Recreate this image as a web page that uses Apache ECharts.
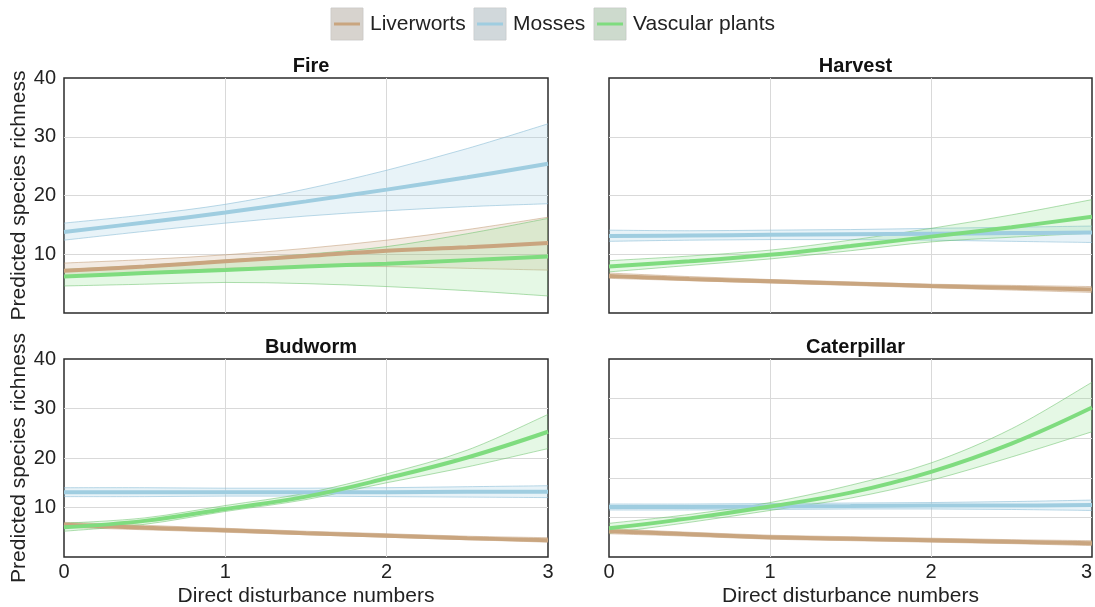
<!DOCTYPE html>
<html>
<head>
<meta charset="utf-8">
<script src="https://cdn.jsdelivr.net/npm/echarts@6/dist/echarts.min.js"></script>
<style>
  html, body { margin: 0; padding: 0; background: #fff; }
  #chart { width: 1095px; height: 607px; }
</style>
</head>
<body>
<div id="chart"></div>
<script>
// x positions where the fitted curves were read
const xs = [0, 0.5, 1, 1.5, 2, 2.5, 3];

const panels = ["Fire", "Harvest", "Budworm", "Caterpillar"];
const species = ["Liverworts", "Mosses", "Vascular plants"];

// Fire
const fireLiverMean = [7.2, 7.9, 8.8, 9.7, 10.6, 11.2, 11.9];
const fireLiverLo = [6.2, 6.9, 7.6, 7.9, 7.9, 7.6, 7.3];
const fireLiverHi = [8.5, 9.1, 9.9, 11.0, 12.4, 14.2, 16.3];
const fireMossMean = [13.8, 15.4, 17.1, 19.0, 21.0, 23.1, 25.4];
const fireMossLo = [12.4, 13.9, 15.3, 16.5, 17.4, 18.1, 18.6];
const fireMossHi = [15.3, 16.7, 18.5, 21.1, 24.3, 28.0, 32.2];
const fireVascMean = [6.2, 6.8, 7.3, 7.9, 8.4, 9.0, 9.6];
const fireVascLo = [4.6, 4.9, 5.2, 5.0, 4.5, 3.8, 2.9];
const fireVascHi = [7.4, 8.1, 9.0, 10.0, 11.3, 13.5, 16.1];

// Harvest
const harvLiverMean = [6.3, 5.8, 5.4, 5.0, 4.6, 4.3, 4.0];
const harvLiverLo = [5.9, 5.5, 5.1, 4.7, 4.3, 3.9, 3.5];
const harvLiverHi = [6.8, 6.2, 5.7, 5.3, 4.9, 4.7, 4.5];
const harvMossMean = [13.1, 13.2, 13.3, 13.4, 13.5, 13.6, 13.7];
const harvMossLo = [12.2, 12.4, 12.5, 12.5, 12.4, 12.2, 12.0];
const harvMossHi = [14.1, 14.0, 14.1, 14.2, 14.4, 14.6, 14.8];
const harvVascMean = [7.9, 8.8, 9.9, 11.4, 13.0, 14.6, 16.4];
const harvVascLo = [7.0, 8.1, 9.2, 10.6, 12.1, 12.9, 13.6];
const harvVascHi = [8.9, 9.7, 10.7, 12.4, 14.4, 16.7, 19.3];

// Budworm
const budLiverMean = [6.5, 5.9, 5.4, 4.8, 4.3, 3.8, 3.4];
const budLiverLo = [6.0, 5.5, 5.0, 4.5, 4.0, 3.5, 3.0];
const budLiverHi = [7.0, 6.4, 5.8, 5.2, 4.7, 4.2, 3.9];
const budMossMean = [13.1, 13.1, 13.1, 13.1, 13.1, 13.2, 13.2];
const budMossLo = [12.2, 12.2, 12.3, 12.3, 12.2, 12.1, 12.0];
const budMossHi = [14.0, 14.0, 13.9, 13.9, 14.0, 14.2, 14.4];
const budVascMean = [6.0, 7.3, 9.7, 12.2, 15.9, 20.1, 25.3];
const budVascLo = [5.2, 6.6, 9.2, 11.6, 15.0, 18.2, 21.9];
const budVascHi = [6.8, 7.9, 10.4, 12.9, 16.8, 21.6, 28.8];

// Caterpillar
const catLiverMean = [5.2, 4.6, 4.0, 3.7, 3.4, 3.1, 2.8];
const catLiverLo = [4.7, 4.2, 3.6, 3.3, 3.0, 2.7, 2.3];
const catLiverHi = [5.7, 5.0, 4.4, 4.1, 3.8, 3.5, 3.3];
const catMossMean = [10.1, 10.1, 10.2, 10.3, 10.4, 10.4, 10.5];
const catMossLo = [9.5, 9.5, 9.6, 9.7, 9.7, 9.6, 9.4];
const catMossHi = [10.7, 10.7, 10.8, 10.9, 11.0, 11.2, 11.5];
const catVascMean = [5.8, 7.8, 10.2, 13.0, 17.2, 22.9, 30.2];
const catVascLo = [4.8, 7.0, 9.4, 11.9, 15.5, 20.2, 25.3];
const catVascHi = [6.8, 8.6, 11.0, 14.5, 19.0, 25.9, 35.3];

const fits = [
  [[fireLiverMean, fireLiverLo, fireLiverHi], [fireMossMean, fireMossLo, fireMossHi], [fireVascMean, fireVascLo, fireVascHi]],
  [[harvLiverMean, harvLiverLo, harvLiverHi], [harvMossMean, harvMossLo, harvMossHi], [harvVascMean, harvVascLo, harvVascHi]],
  [[budLiverMean, budLiverLo, budLiverHi], [budMossMean, budMossLo, budMossHi], [budVascMean, budVascLo, budVascHi]],
  [[catLiverMean, catLiverLo, catLiverHi], [catMossMean, catMossLo, catMossHi], [catVascMean, catVascLo, catVascHi]]
];

const colors = ["#c9a57f", "#9fcde0", "#7fdc7f"];
const bandFill = ["rgba(201,165,127,0.22)", "rgba(159,205,224,0.24)", "rgba(127,220,127,0.2)"];
const bandEdge = ["rgba(190,150,110,0.5)", "rgba(140,190,215,0.6)", "rgba(100,190,100,0.5)"];
const keyTint = ["rgba(201,165,127,0.12)", "rgba(159,205,224,0.14)", "rgba(127,220,127,0.14)"];

const font = "'Liberation Sans', Arial, sans-serif";

let chartDom = document.getElementById("chart");
let myChart = echarts.init(chartDom);

const grids = [
  { left: 64, top: 78, width: 484, height: 235 },
  { left: 609, top: 78, width: 483, height: 235 },
  { left: 64, top: 359, width: 484, height: 198 },
  { left: 609, top: 359, width: 483, height: 198 }
].map((g) => ({
  ...g,
  outerBoundsMode: "none",
  show: true,
  borderColor: "#2b2b2b",
  borderWidth: 1.5,
  backgroundColor: "#fff"
}));

const gridLine = { show: true, showMinLine: false, showMaxLine: false, lineStyle: { color: "#d9d9d9", width: 1 } };

const xAxes = panels.map((p, i) => ({
  type: "value",
  gridIndex: i,
  min: 0,
  max: 3,
  interval: 1,
  axisLine: { show: false },
  axisTick: { show: false },
  splitLine: gridLine,
  axisLabel: {
    show: i >= 2,
    alignMaxLabel: i === 3 ? "right" : null,
    fontSize: 20,
    color: "#222",
    fontFamily: font,
    margin: 5
  },
  name: i >= 2 ? "Direct disturbance numbers" : "",
  nameLocation: "middle",
  nameGap: 29,
  nameTextStyle: { fontSize: 21, color: "#222", fontFamily: font }
}));

const yAxes = panels.map((p, i) => ({
  type: "value",
  gridIndex: i,
  min: 0,
  max: 40,
  interval: i === 3 ? 8 : 10,
  axisLine: { show: false },
  axisTick: { show: false },
  splitLine: gridLine,
  axisLabel: { show: i % 2 === 0, showMinLabel: false, fontSize: 20, color: "#222", fontFamily: font, margin: 8 },
  name: i % 2 === 0 ? "Predicted species richness" : "",
  nameLocation: "middle",
  nameRotate: 90,
  nameGap: 33,
  nameTextStyle: { fontSize: 21, color: "#222", fontFamily: font }
}));

const titles = panels.map((p, i) => ({
  text: p,
  left: grids[i].left + grids[i].width / 2,
  top: i < 2 ? 51 : 332,
  textAlign: "center",
  textStyle: { fontSize: 20, fontWeight: "bold", color: "#111", fontFamily: font }
}));

const pairs = (arr) => arr.map((v, k) => [xs[k], v]);

// smooth path through pixel points (catmull-rom -> bezier)
function curve(pts, moveFirst) {
  let d = (moveFirst ? "M" : "L") + pts[0][0] + "," + pts[0][1];
  for (let k = 0; k < pts.length - 1; k++) {
    const p0 = pts[Math.max(k - 1, 0)];
    const p1 = pts[k];
    const p2 = pts[k + 1];
    const p3 = pts[Math.min(k + 2, pts.length - 1)];
    const c1 = [p1[0] + (p2[0] - p0[0]) / 6, p1[1] + (p2[1] - p0[1]) / 6];
    const c2 = [p2[0] - (p3[0] - p1[0]) / 6, p2[1] - (p3[1] - p1[1]) / 6];
    d += "C" + c1[0] + "," + c1[1] + " " + c2[0] + "," + c2[1] + " " + p2[0] + "," + p2[1];
  }
  return d;
}

let series = [];
// confidence bands first, then the fitted lines on top
fits.forEach((panel, i) => {
  panel.forEach((fit, s) => {
    const lo = fit[1];
    const hi = fit[2];
    series.push({
      type: "custom",
      xAxisIndex: i,
      yAxisIndex: i,
      silent: true,
      clip: true,
      z: 2,
      data: xs.map((x, k) => [x, lo[k], hi[k]]),
      encode: { x: 0, y: [1, 2] },
      renderItem: function (params, api) {
        if (params.dataIndex !== 0) return null;
        const upper = xs.map((x, k) => api.coord([x, hi[k]]));
        const lower = xs.map((x, k) => api.coord([x, lo[k]])).reverse();
        return {
          type: "group",
          children: [
            {
              type: "path",
              shape: { pathData: curve(upper, true) + curve(lower, false) + "Z" },
              style: { fill: bandFill[s], stroke: null }
            },
            {
              type: "path",
              shape: { pathData: curve(upper, true) },
              style: { fill: null, stroke: bandEdge[s], lineWidth: 1 }
            },
            {
              type: "path",
              shape: { pathData: curve(lower, true) },
              style: { fill: null, stroke: bandEdge[s], lineWidth: 1 }
            }
          ]
        };
      }
    });
  });
});
fits.forEach((panel, i) => {
  panel.forEach((fit, s) => {
    series.push({
      name: species[s],
      type: "line",
      xAxisIndex: i,
      yAxisIndex: i,
      smooth: 0.4,
      symbol: "none",
      lineStyle: { color: colors[s], width: 4 },
      data: pairs(fit[0]),
      z: 3
    });
  });
});

// legend drawn as grey keys with a coloured stroke, like the source figure
const legendX = [331, 474, 594];
const legendText = [370, 513, 633];
let legendGraphics = [];
species.forEach((name, s) => {
  legendGraphics.push({
    type: "rect",
    shape: { x: legendX[s], y: 8, width: 32, height: 32 },
    style: { fill: "#dadada", stroke: "#cfcfcf", lineWidth: 1 }
  });
  legendGraphics.push({
    type: "rect",
    shape: { x: legendX[s], y: 8, width: 32, height: 32 },
    style: { fill: keyTint[s] }
  });
  legendGraphics.push({
    type: "line",
    shape: { x1: legendX[s] + 3, y1: 24, x2: legendX[s] + 29, y2: 24 },
    style: { stroke: colors[s], lineWidth: 3 }
  });
  legendGraphics.push({
    type: "text",
    x: legendText[s],
    y: 24,
    style: { text: name, fontSize: 21, fill: "#222", fontFamily: font, verticalAlign: "middle", align: "left" }
  });
});

let option = {
  animation: false,
  backgroundColor: "#fff",
  title: titles,
  grid: grids,
  xAxis: xAxes,
  yAxis: yAxes,
  graphic: legendGraphics,
  series: series
};
myChart.setOption(option);
</script>
</body>
</html>
